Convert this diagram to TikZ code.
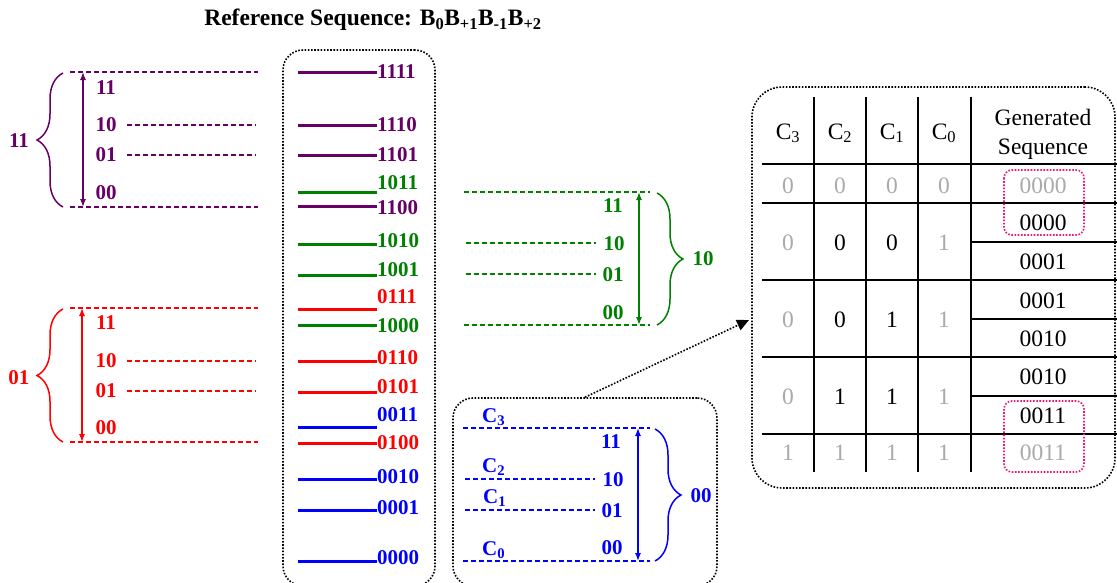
\documentclass[tikz,border=0pt]{standalone}
\usepackage{fontspec}
\setmainfont{Liberation Serif}
\usetikzlibrary{arrows.meta,decorations.pathreplacing}

\definecolor{grpPurple}{RGB}{102,0,102}
\definecolor{grpGreen}{RGB}{0,128,0}
\definecolor{grpRed}{RGB}{255,0,0}
\definecolor{grpBlue}{RGB}{0,0,255}
\definecolor{cellGray}{RGB}{170,170,170}
\definecolor{hlPink}{RGB}{240,20,110}

\begin{document}
\begin{tikzpicture}[x=1pt, y=-1pt,
    level/.style={line width=3pt},
    guide/.style={line width=1.4pt, dash pattern=on 5pt off 3pt},
    lbl/.style={inner sep=0pt, font=\fontsize{21}{24}\selectfont\bfseries},
    cell/.style={inner sep=0pt, font=\fontsize{23.5}{29}\selectfont},
    span/.style={line width=1.3pt, {Latex[length=8pt,width=6pt]}-{Latex[length=8pt,width=6pt]}},
    curly/.style={line width=1.5pt, decorate, decoration={brace, amplitude=26pt}},
    dotbox/.style={draw, line width=1.6pt, dash pattern=on 1.6pt off 1.6pt, rounded corners=20pt, inner sep=0pt},
    hilite/.style={draw=hlPink, line width=1.6pt, dash pattern=on 1.6pt off 1.6pt, rounded corners=8pt},
    grid/.style={line width=1.2pt}]

    \path[use as bounding box, fill=white] (0,0) rectangle (1117,582);

    % Title
    \node[font=\fontsize{23.5}{26}\selectfont\bfseries] (title) at (373,20)
        {Reference Sequence: B\textsubscript{0}B\textsubscript{+1}B\textsubscript{-1}B\textsubscript{+2}};

    % Boxes
    \node[dotbox, minimum width=152pt, minimum height=536pt] (levels) at (359,318) {};
    \node[dotbox, minimum width=264pt, minimum height=188pt] (zoombox) at (585,492) {};
    \node[dotbox, rounded corners=30pt, minimum width=363pt, minimum height=401pt] (tablebox) at (933.5,287.5) {};

    % Levels in the middle column
    \foreach \y/\ty/\code/\col in {72/72/1111/grpPurple, 125/125/1110/grpPurple,
        155/155/1101/grpPurple, 192/183/1011/grpGreen, 206/208/1100/grpPurple,
        244/241/1010/grpGreen, 275/270/1001/grpGreen, 309/297/0111/grpRed,
        325/326/1000/grpGreen, 361/358/0110/grpRed, 392/387/0101/grpRed,
        427/415/0011/grpBlue, 443/443/0100/grpRed, 479/477/0010/grpBlue,
        510/508/0001/grpBlue, 561/558/0000/grpBlue}
    {
        \draw[level, draw=\col] (298,\y) -- (377,\y);
        \node[lbl, text=\col, anchor=west] (lv\code) at (377,\ty) {\code};
    }

    % Group 11 (left, top)
    \draw[guide, grpPurple] (70,72) -- (258,72);
    \draw[guide, grpPurple] (70,207) -- (258,207);
    \draw[guide, grpPurple] (127,125) -- (256,125);
    \draw[guide, grpPurple] (127,155) -- (256,155);
    \draw[span, grpPurple] (83,72) -- (83,207);
    \draw[curly, grpPurple] (63,207) -- (63,73);
    \node[lbl, text=grpPurple] (p11) at (106,88) {11};
    \node[lbl, text=grpPurple] (p10) at (106,125) {10};
    \node[lbl, text=grpPurple] (p01) at (106,155) {01};
    \node[lbl, text=grpPurple] (p00) at (106,193) {00};
    \node[lbl, text=grpPurple] (pgrp) at (19,141) {11};

    % Group 01 (left, bottom)
    \draw[guide, grpRed] (70,308) -- (258,308);
    \draw[guide, grpRed] (70,442) -- (258,442);
    \draw[guide, grpRed] (127,361) -- (256,361);
    \draw[guide, grpRed] (127,391) -- (256,391);
    \draw[span, grpRed] (82,308) -- (82,442);
    \draw[curly, grpRed] (63,442) -- (63,309);
    \node[lbl, text=grpRed] (r11) at (106,323) {11};
    \node[lbl, text=grpRed] (r10) at (106,361) {10};
    \node[lbl, text=grpRed] (r01) at (106,391) {01};
    \node[lbl, text=grpRed] (r00) at (106,428) {00};
    \node[lbl, text=grpRed] (rgrp) at (19,378) {01};

    % Group 10 (right)
    \draw[guide, grpGreen] (464,192) -- (650,192);
    \draw[guide, grpGreen] (464,325) -- (650,325);
    \draw[guide, grpGreen] (466,243) -- (596,243);
    \draw[guide, grpGreen] (466,274) -- (596,274);
    \draw[span, grpGreen] (639,192) -- (639,325);
    \draw[curly, grpGreen] (657,193) -- (657,325);
    \node[lbl, text=grpGreen] (g11) at (613,206) {11};
    \node[lbl, text=grpGreen] (g10) at (614,244) {10};
    \node[lbl, text=grpGreen] (g01) at (613,275) {01};
    \node[lbl, text=grpGreen] (g00) at (613,313) {00};
    \node[lbl, text=grpGreen] (ggrp) at (703,259) {10};

    % Group 00 with the C thresholds
    \draw[guide, grpBlue] (463,428) -- (650,428);
    \draw[guide, grpBlue] (463,561) -- (650,561);
    \draw[guide, grpBlue] (465,479) -- (595,479);
    \draw[guide, grpBlue] (465,510) -- (595,510);
    \draw[span, grpBlue] (638,428) -- (638,561);
    \draw[curly, grpBlue] (655,429) -- (655,561);
    \node[lbl, text=grpBlue] (b11) at (611,442) {11};
    \node[lbl, text=grpBlue] (b10) at (613,480) {10};
    \node[lbl, text=grpBlue] (b01) at (612,511) {01};
    \node[lbl, text=grpBlue] (b00) at (612,548) {00};
    \node[lbl, text=grpBlue] (bgrp) at (701,496) {00};
    \node[lbl, text=grpBlue, anchor=base west] (c3) at (482,422) {C\textsubscript{3}};
    \node[lbl, text=grpBlue, anchor=base west] (c2) at (482,472) {C\textsubscript{2}};
    \node[lbl, text=grpBlue, anchor=base west] (c1) at (483,503) {C\textsubscript{1}};
    \node[lbl, text=grpBlue, anchor=base west] (c0) at (482,555) {C\textsubscript{0}};

    % Link to the table
    \coordinate (tablein) at (749,320);
    \draw[line width=1.6pt, dash pattern=on 1.6pt off 1.6pt, -{Triangle[length=12pt,width=11pt]}] (zoombox.north) -- (tablein);

    % Table rules
    \foreach \x in {814,866,918,971}
        \draw[grid] (\x,97) -- (\x,472);
    \foreach \y in {164,203,280,357,434}
        \draw[grid] (762,\y) -- (1117,\y);
    \foreach \y in {242,319,396}
        \draw[grid] (971,\y) -- (1117,\y);

    % Table header
    \node[cell, anchor=base] (h3) at (788,139) {C\textsubscript{3}};
    \node[cell, anchor=base] (h2) at (840,139) {C\textsubscript{2}};
    \node[cell, anchor=base] (h1) at (892,139) {C\textsubscript{1}};
    \node[cell, anchor=base] (h0) at (944,139) {C\textsubscript{0}};
    \node[cell, align=center] (hseq) at (1043,134) {Generated\\Sequence};

    % Table rows
    \node[cell, text=cellGray] (r1a) at (788,186) {0};
    \node[cell, text=cellGray] (r1b) at (840,186) {0};
    \node[cell, text=cellGray] (r1c) at (892,186) {0};
    \node[cell, text=cellGray] (r1d) at (944,186) {0};
    \node[cell, text=cellGray] (r1s) at (1043,186) {0000};

    \node[cell, text=cellGray] (r2a) at (788,243) {0};
    \node[cell] (r2b) at (840,243) {0};
    \node[cell] (r2c) at (892,243) {0};
    \node[cell, text=cellGray] (r2d) at (944,243) {1};
    \node[cell] (r2s) at (1043,223) {0000};
    \node[cell] (r2t) at (1043,262) {0001};

    \node[cell, text=cellGray] (r3a) at (788,320) {0};
    \node[cell] (r3b) at (840,320) {0};
    \node[cell] (r3c) at (892,320) {1};
    \node[cell, text=cellGray] (r3d) at (944,320) {1};
    \node[cell] (r3s) at (1043,301) {0001};
    \node[cell] (r3t) at (1043,339) {0010};

    \node[cell, text=cellGray] (r4a) at (788,397) {0};
    \node[cell] (r4b) at (840,397) {1};
    \node[cell] (r4c) at (892,397) {1};
    \node[cell, text=cellGray] (r4d) at (944,397) {1};
    \node[cell] (r4s) at (1043,377) {0010};
    \node[cell] (r4t) at (1043,416) {0011};

    \node[cell, text=cellGray] (r5a) at (788,453) {1};
    \node[cell, text=cellGray] (r5b) at (840,453) {1};
    \node[cell, text=cellGray] (r5c) at (892,453) {1};
    \node[cell, text=cellGray] (r5d) at (944,453) {1};
    \node[cell, text=cellGray] (r5s) at (1043,453) {0011};

    % Highlighted repeats
    \draw[hilite] (1004,170) rectangle (1084,235);
    \draw[hilite] (1004,401) rectangle (1084,472);
\end{tikzpicture}
\end{document}
